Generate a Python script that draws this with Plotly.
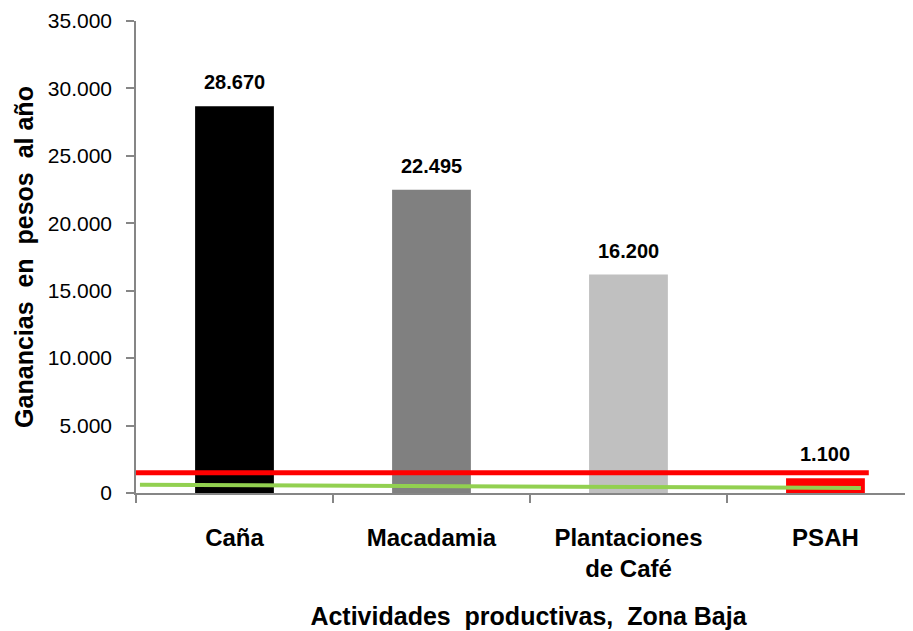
import plotly.graph_objects as go

categorias = ["Caña", "Macadamia", "Plantaciones<br>de Café", "PSAH"]
ganancias = [28670, 22495, 16200, 1100]
colores = ["#000000", "#808080", "#c0c0c0", "#ff0000"]

# reference lines drawn across the categories (x in category units)
linea_roja_x = [-0.5, 3.22]
linea_roja_y = [1500, 1500]
linea_verde_x = [-0.48, 3.18]
linea_verde_y = [615, 370]

y_ticks = [0, 5000, 10000, 15000, 20000, 25000, 30000, 35000]

FONT = "Liberation Sans, Arial, sans-serif"


def miles(v: int) -> str:
    return f"{v:,}".replace(",", ".")


fig = go.Figure()
pos = list(range(len(categorias)))
fig.add_trace(
    go.Bar(
        x=pos,
        y=ganancias,
        width=0.4,
        marker=dict(color=colores, line=dict(width=0)),
        showlegend=False,
    )
)
fig.add_trace(
    go.Scatter(
        x=linea_verde_x,
        y=linea_verde_y,
        mode="lines",
        line=dict(color="#92d050", width=4),
        showlegend=False,
    )
)
fig.add_trace(
    go.Scatter(
        x=linea_roja_x,
        y=linea_roja_y,
        mode="lines",
        line=dict(color="#ff0000", width=5),
        showlegend=False,
    )
)

for x, v in zip(pos, ganancias):
    fig.add_annotation(
        x=x,
        y=v,
        text=f"<b>{miles(v)}</b>",
        showarrow=False,
        yanchor="bottom",
        yshift=11,
        font=dict(family=FONT, size=20, color="#000000"),
    )

# page body adds an 8px offset, so margins are trimmed by that amount
fig.update_layout(
    width=913,
    height=631,
    margin=dict(l=128, r=0, t=13, b=146),
    plot_bgcolor="white",
    paper_bgcolor="white",
    font=dict(family=FONT, color="#000000"),
    bargap=0.6,
)
fig.update_xaxes(
    automargin=False,
    range=[-0.5, 3.485],
    tickvals=pos,
    ticktext=[f"<b>{c}</b>" for c in categorias],
    ticks="",
    ticklabelstandoff=22,
    tickfont=dict(family=FONT, size=24),
    minor=dict(ticks="outside", tick0=-0.5, dtick=1, ticklen=8, tickcolor="#868686", tickwidth=1.5),
    showline=True,
    linecolor="#868686",
    linewidth=1.5,
    showgrid=False,
    zeroline=False,
    title=dict(
        text="<b>Actividades  productivas,  Zona Baja</b>",
        font=dict(family=FONT, size=25),
        standoff=27,
    ),
)
fig.update_yaxes(
    automargin=False,
    range=[0, 35000],
    tickvals=y_ticks,
    ticktext=[miles(v) for v in y_ticks],
    ticks="outside",
    ticklen=8,
    tickcolor="#868686",
    tickwidth=1.5,
    ticklabelstandoff=10,
    tickfont=dict(family=FONT, size=21),
    showline=True,
    linecolor="#868686",
    linewidth=1.5,
    showgrid=False,
    zeroline=False,
    title=dict(
        text="<b>Ganancias  en  pesos  al año</b>",
        font=dict(family=FONT, size=25),
        standoff=7,
    ),
)

fig.write_html("out.html")
